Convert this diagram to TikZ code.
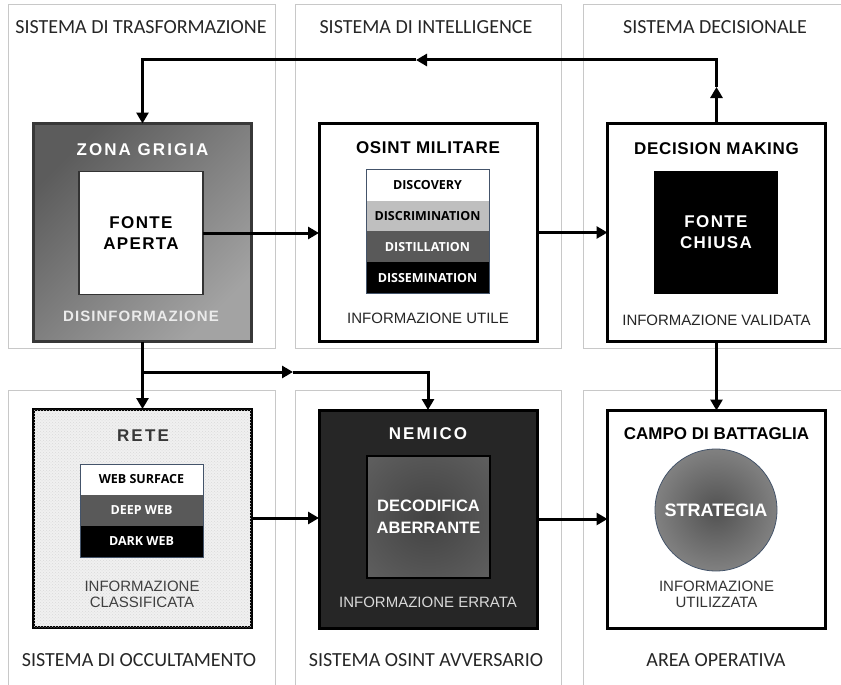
\documentclass[tikz,border=0pt]{standalone}
\usepackage{fontspec}
\setmainfont{Liberation Sans}
\newfontfamily\panelfont{Carlito}
\newfontfamily\stackfont{Open Sans}
\usetikzlibrary{arrows.meta,patterns}

\definecolor{panelgray}{HTML}{C8C8C8}
\definecolor{slate}{HTML}{44546A}
\definecolor{nemicogray}{HTML}{262626}
\definecolor{midgray}{HTML}{595959}
\definecolor{lightgray}{HTML}{BFBFBF}

\pgfdeclareradialshading{strategiashade}{\pgfpoint{0bp}{0bp}}{color(0bp)=(black!68); color(38bp)=(black!40); color(50bp)=(black!28)}
\pgfdeclareradialshading{decodshade}{\pgfpoint{0bp}{0bp}}{color(0bp)=(black!74); color(50bp)=(black!58)}

\newcommand{\spaced}[2]{{\addfontfeature{LetterSpace=#1}#2}}

\tikzset{
  panel/.style={draw=panelgray, line width=1pt},
  paneltext/.style={font=\panelfont\fontsize{20}{22}\selectfont, text=black!85},
  bigbox/.style={draw, line width=3pt, minimum width=218, minimum height=218, inner sep=0pt, outer sep=0pt},
  innerbox/.style={minimum width=124, minimum height=123, inner sep=0pt, outer sep=0pt, align=center,
    font=\bfseries\fontsize{17}{21}\selectfont},
  boxtitle/.style={font=\bfseries\fontsize{17}{20}\selectfont},
  boxnote/.style={font=\fontsize{15}{15.5}\selectfont, align=center, text=black!85},
  stackrow/.style={minimum width=123, minimum height=30.8, inner sep=0pt, outer sep=0pt,
    font=\stackfont\bfseries\fontsize{12.5}{15}\selectfont},
  line/.style={line width=3pt},
  flow/.style={line width=3pt, -{Triangle[length=11pt,width=12pt]}}
}

\begin{document}
\begin{tikzpicture}[x=1pt,y=-1pt]
\useasboundingbox (0,0) rectangle (841,685);

% sistemi
\foreach \xa/\xb in {8/275,295/561,583/850}{
  \draw[panel] (\xa,5) rectangle (\xb,348);
  \draw[panel] (\xa,390) rectangle (\xb,695);}
\node[paneltext] (trasf) at (141,27) {SISTEMA DI TRASFORMAZIONE};
\node[paneltext] (intel) at (426,27) {SISTEMA DI INTELLIGENCE};
\node[paneltext] (decisionale) at (715,27) {SISTEMA DECISIONALE};
\node[paneltext] (occult) at (139,660) {SISTEMA DI OCCULTAMENTO};
\node[paneltext] (avvers) at (426,660) {SISTEMA OSINT AVVERSARIO};
\node[paneltext] (operativa) at (716,660) {AREA OPERATIVA};

% zona grigia
\node[bigbox, draw=black!78, line width=2.5pt, top color=black!64, bottom color=black!36, shading angle=45] (zona) at (142.5,232.5) {};
\node[boxtitle, text=white] (zonat) at (142.5,150) {\spaced{12}{ZONA GRIGIA}};
\node[innerbox, fill=white, draw=black!80, line width=1.2pt] (aperta) at (141,233) {\spaced{8}{FONTE}\\\spaced{8}{APERTA}};
\node[boxtitle, text=black!8, font=\bfseries\fontsize{15}{17}\selectfont] (disinf) at (141,316) {\spaced{7}{DISINFORMAZIONE}};

% osint militare
\node[bigbox, fill=white] (osint) at (428,232.5) {};
\node[boxtitle] (osintt) at (428,148) {\spaced{4}{OSINT MILITARE}};
\foreach \lab/\fc/\tc [count=\i] in {DISCOVERY/white/black,DISCRIMINATION/lightgray/black,DISTILLATION/midgray/white,DISSEMINATION/black/white}
  \node[stackrow, fill=\fc, text=\tc] (osint-\i) at (427.5,154.6+30.75*\i) {\lab};
\draw[slate, line width=1pt] (osint-1.north west) rectangle (osint-4.south east);
\node[boxnote] (utile) at (428,318) {INFORMAZIONE UTILE};

% decision making
\node[bigbox, fill=white] (decis) at (716.5,232.5) {};
\node[boxtitle] (decist) at (716.5,149) {\spaced{4}{DECISION MAKING}};
\node[innerbox, fill=black, text=white] (chiusa) at (716,232.5) {\spaced{8}{FONTE}\\\spaced{8}{CHIUSA}};
\node[boxnote] (validata) at (716.5,320) {INFORMAZIONE VALIDATA};

% rete
\node[bigbox, fill=black!6, postaction={pattern=crosshatch dots, pattern color=black!15}] (rete) at (142.5,518) {};
\node[boxtitle, text=black!78] (retet) at (143,436) {\spaced{13}{RETE}};
\foreach \lab/\fc/\tc [count=\i] in {WEB SURFACE/white/black,DEEP WEB/midgray/white,DARK WEB/black/white}
  \node[stackrow, minimum height=31, fill=\fc, text=\tc] (web-\i) at (141.5,448.5+31*\i) {\lab};
\draw[slate, line width=1pt] (web-1.north west) rectangle (web-3.south east);
\node[boxnote, text=black!75] (classif) at (142,594.5) {INFORMAZIONE\\CLASSIFICATA};

% nemico
\node[bigbox, fill=nemicogray, draw=black] (nemico) at (428,519) {};
\node[boxtitle, text=white] (nemicot) at (428,434) {\spaced{12}{NEMICO}};
\node[minimum width=123, minimum height=122, inner sep=0pt, outer sep=0pt, shading=decodshade, draw=black, line width=1.5pt,
  text=white, align=center, font=\bfseries\fontsize{16.5}{22}\selectfont] (decod) at (428.5,517) {DECODIFICA\\ABERRANTE};
\node[boxnote, text=black!15] (errata) at (428,602) {INFORMAZIONE ERRATA};

% campo di battaglia
\node[bigbox, fill=white] (campo) at (716.5,519.5) {};
\node[boxtitle] (campot) at (716.5,434) {CAMPO DI BATTAGLIA};
\node[circle, minimum size=122, inner sep=0pt, shading=strategiashade, draw=slate, line width=0.8pt,
  text=white, font=\bfseries\fontsize{18}{20}\selectfont] (strat) at (716,510) {STRATEGIA};
\node[boxnote, text=black!80] (utilizz) at (716.5,594.5) {INFORMAZIONE\\UTILIZZATA};

% flussi
\coordinate (fbA) at (716.5,87);
\coordinate (fbB) at (716.5,60);
\coordinate (fbC) at (416,60);
\draw[flow] (decis.north) -- (fbA);
\draw[flow] (fbA) -- (fbB) -- (fbC);
\draw[flow] (fbC) -| (zona.north);
\draw[flow] (aperta.east) -- (aperta.east -| osint.west);
\draw[flow] (osint.east) -- (osint.east -| decis.west);
\coordinate (split) at (142.5,372);
\coordinate (splitB) at (293,372);
\draw[line] (zona.south) -- (split);
\draw[flow] (split) -- (rete.north);
\draw[flow] (split) -- (splitB);
\draw[flow] (splitB) -| (nemico.north);
\draw[flow] (rete.east) -- (rete.east -| nemico.west);
\draw[flow] (nemico.east) -- (nemico.east -| campo.west);
\draw[flow] (decis.south) -- (campo.north);
\end{tikzpicture}
\end{document}
